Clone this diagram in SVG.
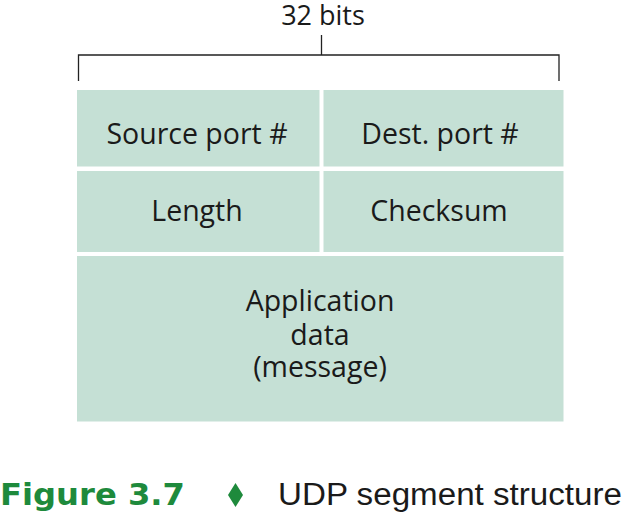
<svg xmlns="http://www.w3.org/2000/svg" width="623" height="522" viewBox="0 0 623 522">
<style>
.cell{fill:#c5e0d5}
.lbl{font-family:"Open Sans","Liberation Sans",sans-serif;font-size:28.5px;fill:#1a1a1a;text-anchor:middle}
.br{stroke:#222;stroke-width:1.3;fill:none}
.fig{font-family:"DejaVu Sans","Liberation Sans",sans-serif;font-weight:bold;font-size:30px;fill:#1e8a3c}
.cap{font-family:"Liberation Sans",sans-serif;font-size:31px;fill:#1a1a1a}
</style>
<rect width="623" height="522" fill="#ffffff"/>
<g id="connectors">
<path class="br" d="M78.5,81 V55 H559 V81 M321.5,35 V55"/>
</g>
<text class="lbl" x="323" y="25" style="font-size:27px">32 bits</text>
<g id="source">
<rect class="cell" x="77" y="90" width="242.5" height="76.5"/>
<text class="lbl" x="197" y="144">Source port #</text>
</g>
<g id="dest">
<rect class="cell" x="323.5" y="90" width="240" height="76.5"/>
<text class="lbl" x="440" y="144">Dest. port #</text>
</g>
<g id="length">
<rect class="cell" x="77" y="171" width="242.5" height="81"/>
<text class="lbl" x="197" y="221">Length</text>
</g>
<g id="checksum">
<rect class="cell" x="323.5" y="171" width="240" height="81"/>
<text class="lbl" x="439" y="221">Checksum</text>
</g>
<g id="data">
<rect class="cell" x="77" y="256" width="486.5" height="165.5"/>
<text class="lbl" x="320" y="311">Application</text>
<text class="lbl" x="320" y="345">data</text>
<text class="lbl" x="320" y="377">(message)</text>
</g>
<g id="caption">
<text class="fig" x="0" y="505" textLength="185" lengthAdjust="spacingAndGlyphs">Figure 3.7</text>
<path d="M235.5,483 L243,495 L235.5,507 L228,495 Z" fill="#1e8a3c"/>
<text class="cap" x="278" y="505" textLength="344" lengthAdjust="spacingAndGlyphs">UDP segment structure</text>
</g>
</svg>
